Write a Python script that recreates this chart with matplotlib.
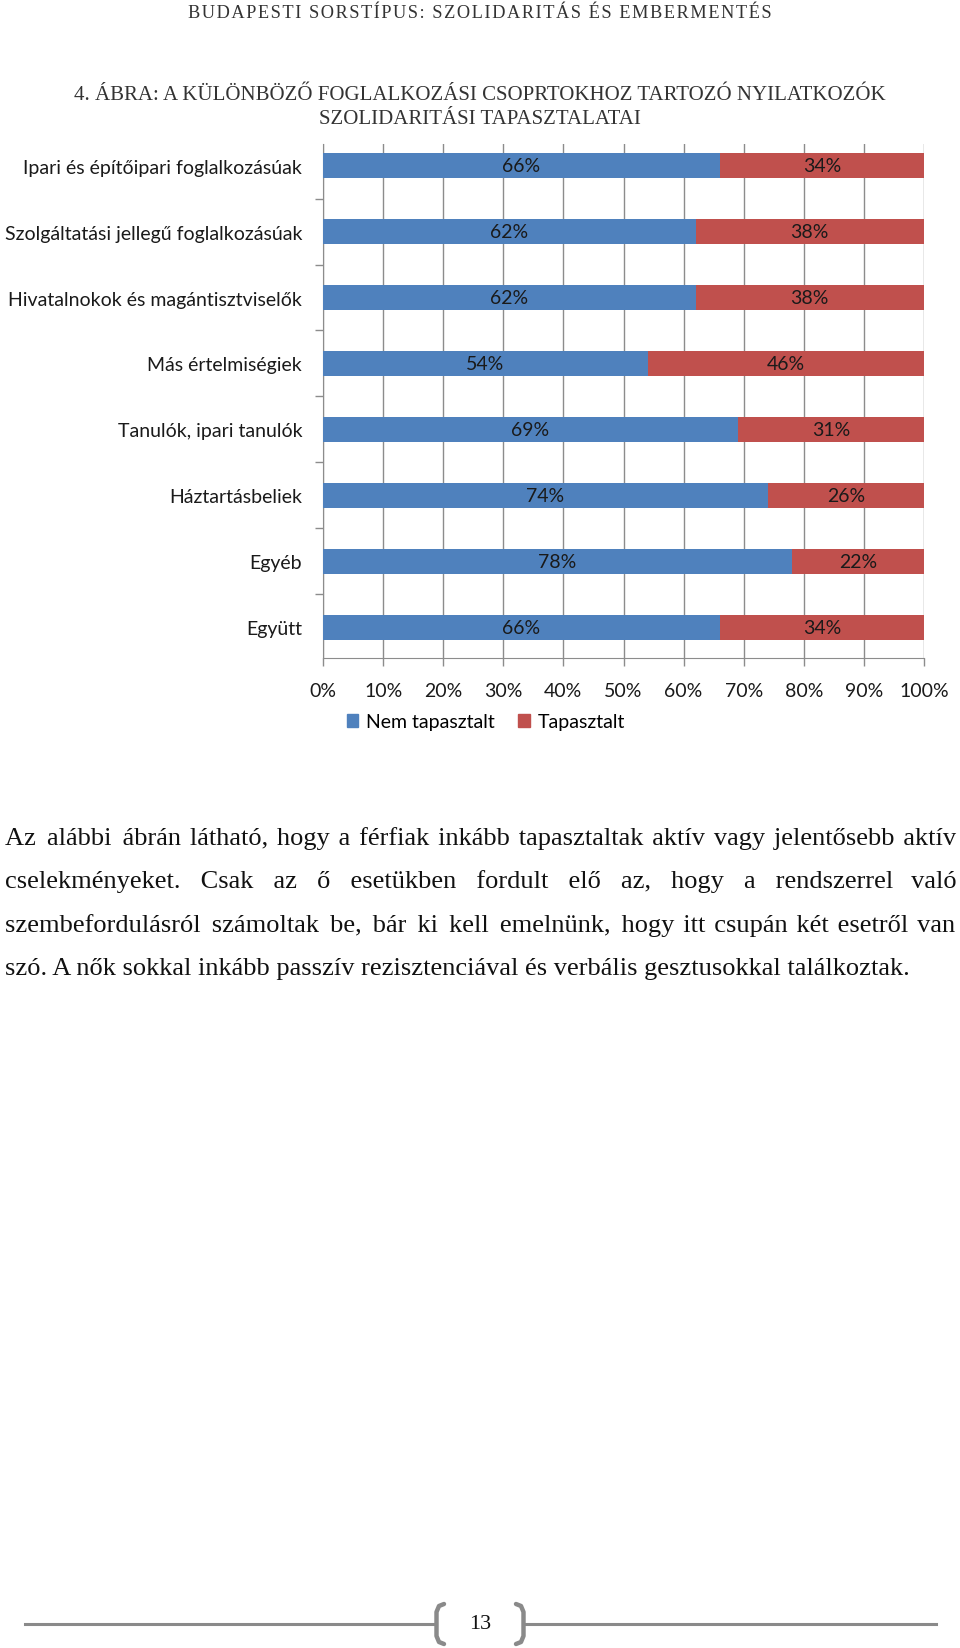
import matplotlib
matplotlib.use("Agg")
import matplotlib.pyplot as plt
from matplotlib.patches import Patch
import numpy as np

W, H = 960, 1649

# ---- adatok ----
categories = [
    "Ipari és építőipari foglalkozásúak",
    "Szolgáltatási jellegű foglalkozásúak",
    "Hivatalnokok és magántisztviselők",
    "Más értelmiségiek",
    "Tanulók, ipari tanulók",
    "Háztartásbeliek",
    "Egyéb",
    "Együtt",
]
nem_tapasztalt = [66, 62, 62, 54, 69, 74, 78, 66]
tapasztalt = [34, 38, 38, 46, 31, 26, 22, 34]
series_names = ["Nem tapasztalt", "Tapasztalt"]
x_ticks = [0, 10, 20, 30, 40, 50, 60, 70, 80, 90, 100]

header = "BUDAPESTI SORSTÍPUS: SZOLIDARITÁS ÉS EMBERMENTÉS"
title_lines = ["4. ÁBRA: A KÜLÖNBÖZŐ FOGLALKOZÁSI CSOPRTOKHOZ TARTOZÓ NYILATKOZÓK",
               "SZOLIDARITÁSI TAPASZTALATAI"]
para_lines = [
    "Az alábbi ábrán látható, hogy a férfiak inkább tapasztaltak aktív vagy jelentősebb aktív",
    "cselekményeket. Csak az ő esetükben fordult elő az, hogy a rendszerrel való",
    "szembefordulásról számoltak be, bár ki kell emelnünk, hogy itt csupán két esetről van",
    "szó. A nők sokkal inkább passzív rezisztenciával és verbális gesztusokkal találkoztak.",
]
page_no = "13"

BLUE = "#4f81bd"
RED = "#c0504d"
GRID = "#8c8c8c"
TXT = "#1a1a1a"
SANS = "Lato"
SERIF = ["Liberation Serif", "DejaVu Serif"]
FS = 14
HAIR = "\u200a"


def fx(px):
    return px / W


def fy(py):
    return 1 - py / H


fig = plt.figure(figsize=(W / 100, H / 100), dpi=100)
fig.patch.set_facecolor("white")

# ---- diagram ----
ax = fig.add_axes([fx(323), fy(659), fx(924) - fx(323), fy(145) - fy(659)])
y = np.arange(len(categories))
ax.barh(y, nem_tapasztalt, height=0.38, color=BLUE, zorder=3)
ax.barh(y, tapasztalt, left=nem_tapasztalt, height=0.38, color=RED, zorder=3)

for i in range(len(categories)):
    a, b = nem_tapasztalt[i], tapasztalt[i]
    ax.text(a / 2, y[i], f"{a}%", ha="center", va="center", fontsize=FS,
            family=SANS, color=TXT, zorder=4)
    ax.text(a + b / 2, y[i], f"{b}%", ha="center", va="center", fontsize=FS,
            family=SANS, color=TXT, zorder=4)

ax.set_xlim(0, 100)
ax.set_ylim(len(categories) - 0.53, -0.33)
ax.set_xticks(x_ticks)
ax.set_xticklabels([f"{t}%" for t in x_ticks], family=SANS, fontsize=FS, color=TXT)
ax.set_yticks(y)
ax.set_yticklabels(categories, family=SANS, fontsize=FS, color=TXT)
ax.set_yticks(np.arange(len(categories) - 1) + 0.5, minor=True)
ax.tick_params(axis="y", which="major", length=0, pad=15)
ax.tick_params(axis="y", which="minor", length=6, color=GRID, width=1)
ax.tick_params(axis="x", length=6, color=GRID, width=1, pad=11)
ax.grid(axis="x", color=GRID, linewidth=1, zorder=0)
for s in ["top", "right"]:
    ax.spines[s].set_visible(False)
for s in ["left", "bottom"]:
    ax.spines[s].set_color(GRID)

handles = [Patch(color=BLUE), Patch(color=RED)]
fig.legend(handles, series_names, loc="center", bbox_to_anchor=(fx(486), fy(723)),
           ncol=2, frameon=False, handlelength=0.6, handleheight=0.6,
           handletextpad=0.4, columnspacing=1.2,
           prop={"family": SANS, "size": FS})

# ---- fejléc, cím ----
fig.text(fx(480), fy(14), HAIR.join(header), ha="center", va="center",
         family=SERIF, fontsize=13.2, color="#333333")
fig.text(fx(480), fy(95), title_lines[0], ha="center", va="center", family=SERIF,
         fontsize=15, color="#333333")
fig.text(fx(480), fy(120), title_lines[1], ha="center", va="center", family=SERIF,
         fontsize=15, color="#333333")

# ---- sorkizárt bekezdés (hajszálszóközökkel kitöltve) ----
renderer = fig.canvas.get_renderer()
left_px, right_px = 5, 956
line_base = [845, 888, 932, 975]
PFS = 19


def text_width(s):
    t = fig.text(0, 0, s, family=SERIF, fontsize=PFS)
    wd = t.get_window_extent(renderer).width
    t.remove()
    return wd


hair_w = text_width("a" + HAIR * 10 + "a") / 10 - text_width("aa") / 10
for k, line in enumerate(para_lines):
    words = line.split(" ")
    s = line
    if k < len(para_lines) - 1:
        extra = (right_px - left_px) - text_width(line)
        n_gap = len(words) - 1
        n_hair = max(0, int(round(extra / hair_w)))
        per, rest = divmod(n_hair, n_gap)
        s = words[0]
        for j, w in enumerate(words[1:]):
            s += " " + HAIR * (per + (1 if j < rest else 0)) + w
    fig.text(fx(left_px), fy(line_base[k]), s, ha="left", va="baseline",
             family=SERIF, fontsize=PFS, color="#111111")

# ---- lábléc ----
fig.add_artist(plt.Line2D([fx(25), fx(436)], [fy(1625), fy(1625)], color="#8a8a8a", lw=2.2))
fig.add_artist(plt.Line2D([fx(525), fx(936)], [fy(1625), fy(1625)], color="#8a8a8a", lw=2.2))
lb_x = [444, 439, 436.5, 436.5, 439, 444]
rb_x = [516, 521, 523.5, 523.5, 521, 516]
br_y = [1605, 1607, 1613, 1637, 1643, 1645]
fig.add_artist(plt.Line2D([fx(v) for v in lb_x], [fy(v) for v in br_y],
                          color="#8a8a8a", lw=3.2, solid_capstyle="round",
                          solid_joinstyle="round"))
fig.add_artist(plt.Line2D([fx(v) for v in rb_x], [fy(v) for v in br_y],
                          color="#8a8a8a", lw=3.2, solid_capstyle="round",
                          solid_joinstyle="round"))
fig.text(fx(480), fy(1625), page_no, ha="center", va="center", family=SERIF,
         fontsize=16, color="#111111")

fig.savefig("out.png", dpi=100, facecolor="white")
